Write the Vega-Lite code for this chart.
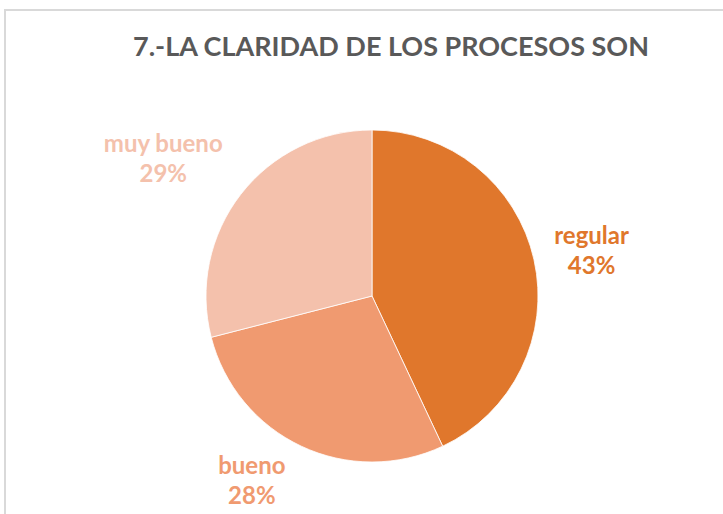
{
  "$schema": "https://vega.github.io/schema/vega-lite/v6.json",
  "width": 734,
  "height": 572,
  "autosize": {"type": "none"},
  "padding": {"left": 5, "top": 10, "right": 0, "bottom": 0},
  "background": "white",
  "view": {"stroke": "#D9D9D9", "strokeWidth": 2, "fill": "white"},
  "title": {
    "text": "7.-LA CLARIDAD DE LOS PROCESOS SON",
    "font": "Lato",
    "fontSize": 27,
    "fontWeight": "bold",
    "color": "#595959",
    "anchor": "start",
    "dx": 128,
    "offset": -73,
    "baseline": "alphabetic"
  },
  "data": {
    "values": [
      {"categoria": "regular", "valor": 0.43, "orden": 1},
      {"categoria": "bueno", "valor": 0.28, "orden": 2},
      {"categoria": "muy bueno", "valor": 0.29, "orden": 3}
    ]
  },
  "transform": [
    {"stack": "valor", "groupby": [], "sort": [{"field": "orden", "order": "ascending"}], "as": ["v0", "v1"]},
    {"calculate": "(datum.v0 + datum.v1) / 2", "as": "medio"}
  ],
  "encoding": {
    "color": {
      "field": "categoria",
      "type": "nominal",
      "scale": {"domain": ["regular", "bueno", "muy bueno"], "range": ["#E0772C", "#F09A70", "#F4C1AC"]},
      "legend": null
    }
  },
  "layer": [
    {
      "mark": {"type": "arc", "outerRadius": 166, "stroke": "white", "strokeWidth": 0.8},
      "encoding": {
        "theta": {"field": "v0", "type": "quantitative", "scale": {"domain": [0, 1]}},
        "theta2": {"field": "v1"}
      }
    },
    {
      "transform": [{"filter": "datum.categoria == 'regular'"}],
      "mark": {"type": "text", "radius": 225, "dy": -10, "font": "Lato", "fontSize": 24, "fontWeight": "bold"},
      "encoding": {"theta": {"field": "medio", "type": "quantitative", "scale": {"domain": [0, 1]}}, "text": {"field": "categoria", "type": "nominal"}}
    },
    {
      "transform": [{"filter": "datum.categoria == 'regular'"}],
      "mark": {"type": "text", "radius": 225, "dy": 20, "font": "Lato", "fontSize": 24, "fontWeight": "bold"},
      "encoding": {"theta": {"field": "medio", "type": "quantitative", "scale": {"domain": [0, 1]}}, "text": {"field": "valor", "type": "quantitative", "format": ".0%"}}
    },
    {
      "transform": [{"filter": "datum.categoria == 'bueno'"}],
      "mark": {"type": "text", "radius": 200, "dx": -35, "dy": -10, "font": "Lato", "fontSize": 24, "fontWeight": "bold"},
      "encoding": {"theta": {"field": "medio", "type": "quantitative", "scale": {"domain": [0, 1]}}, "text": {"field": "categoria", "type": "nominal"}}
    },
    {
      "transform": [{"filter": "datum.categoria == 'bueno'"}],
      "mark": {"type": "text", "radius": 200, "dx": -35, "dy": 20, "font": "Lato", "fontSize": 24, "fontWeight": "bold"},
      "encoding": {"theta": {"field": "medio", "type": "quantitative", "scale": {"domain": [0, 1]}}, "text": {"field": "valor", "type": "quantitative", "format": ".0%"}}
    },
    {
      "transform": [{"filter": "datum.categoria == 'muy bueno'"}],
      "mark": {"type": "text", "radius": 249, "dx": -12, "dy": 2, "font": "Lato", "fontSize": 24, "fontWeight": "bold"},
      "encoding": {"theta": {"field": "medio", "type": "quantitative", "scale": {"domain": [0, 1]}}, "text": {"field": "categoria", "type": "nominal"}}
    },
    {
      "transform": [{"filter": "datum.categoria == 'muy bueno'"}],
      "mark": {"type": "text", "radius": 249, "dx": -12, "dy": 32, "font": "Lato", "fontSize": 24, "fontWeight": "bold"},
      "encoding": {"theta": {"field": "medio", "type": "quantitative", "scale": {"domain": [0, 1]}}, "text": {"field": "valor", "type": "quantitative", "format": ".0%"}}
    }
  ]
}
